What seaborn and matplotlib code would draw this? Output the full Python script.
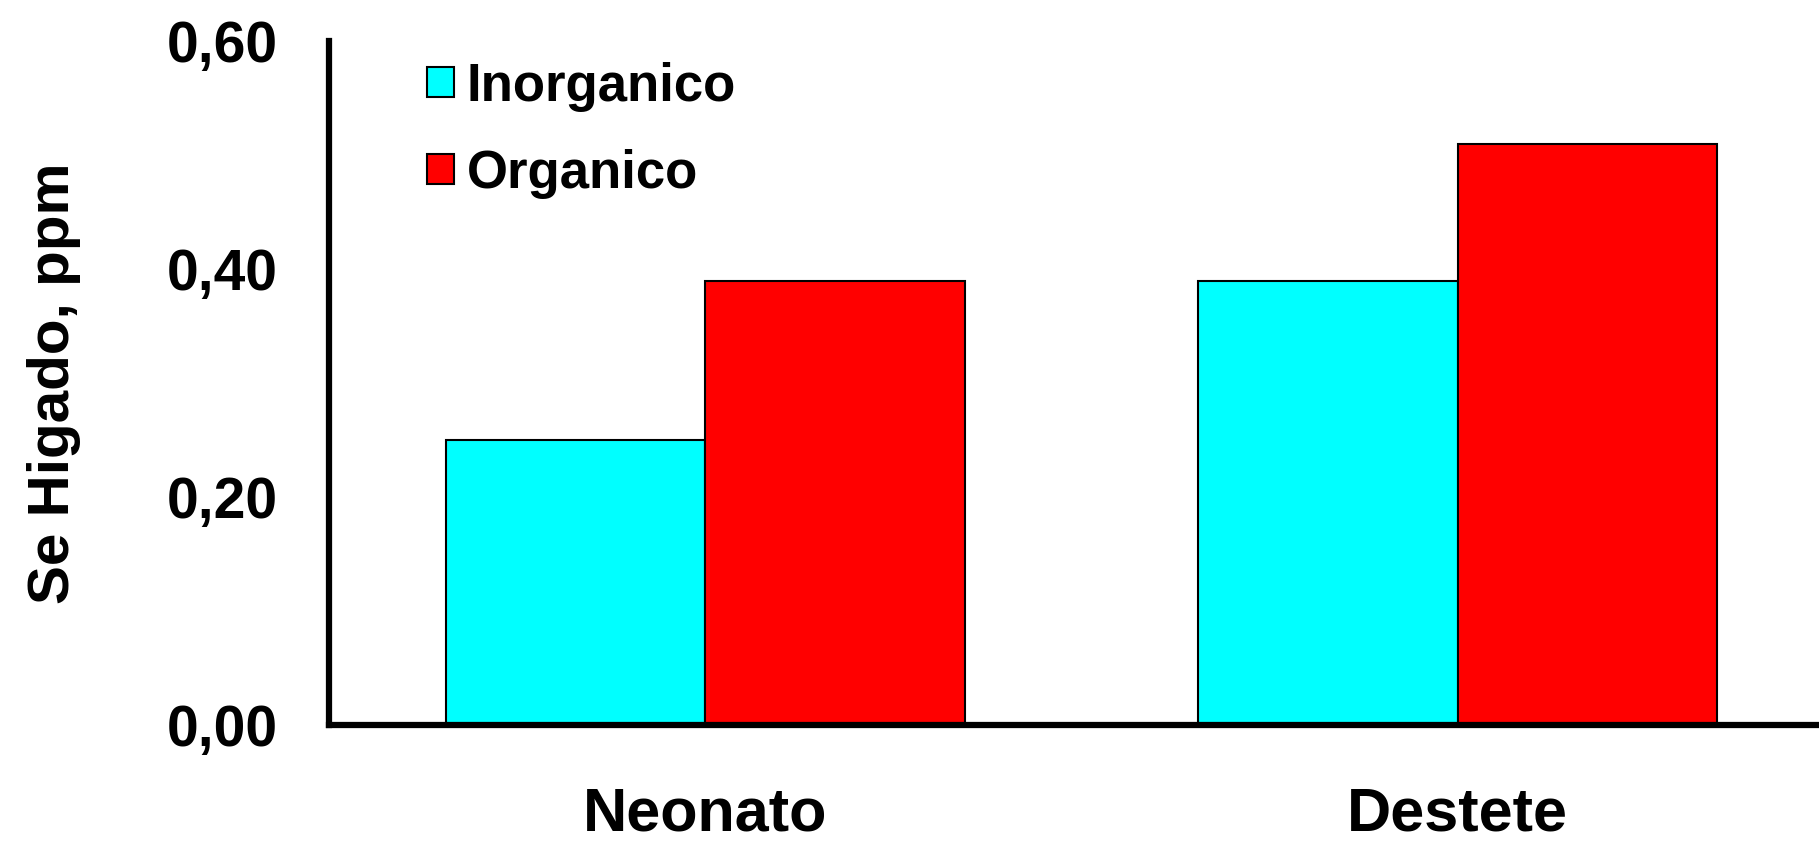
import pandas as pd
import matplotlib
matplotlib.use("Agg")
import matplotlib.pyplot as plt
import seaborn as sns
from matplotlib.patches import Patch

# Datos del grafico
etapas = ["Neonato", "Destete"]
fuentes = ["Inorganico", "Organico"]
inorganico = [0.25, 0.39]
organico = [0.39, 0.51]
colores = ["#00FFFF", "#FF0000"]
ticks_y = [0.0, 0.2, 0.4, 0.6]
etiquetas_y = ["0,00", "0,20", "0,40", "0,60"]

df = pd.DataFrame({
    "etapa": etapas * 2,
    "fuente": [fuentes[0]] * 2 + [fuentes[1]] * 2,
    "se": inorganico + organico,
})

sns.set_style("white")
plt.rcParams["font.family"] = ["Liberation Sans", "DejaVu Sans"]
plt.rcParams["font.weight"] = "bold"
plt.rcParams["text.color"] = "black"
plt.rcParams["axes.labelcolor"] = "black"
plt.rcParams["xtick.color"] = "black"
plt.rcParams["ytick.color"] = "black"

fig = plt.figure(figsize=(18.19, 8.44), dpi=100)
ax = fig.add_axes([0.181, 0.141, 0.819, 0.810])

sns.barplot(
    data=df,
    x="etapa",
    y="se",
    hue="fuente",
    order=etapas,
    hue_order=fuentes,
    palette=colores,
    width=0.69,
    edgecolor="black",
    linewidth=1.5,
    saturation=1,
    legend=False,
    ax=ax
)

ax.set_ylim(0, 0.6)
ax.set_xlim(-0.5, 1.48)
ax.set_yticks(ticks_y)
ax.set_yticklabels(etiquetas_y, fontsize=41, fontweight="bold", color="black")
ax.set_xticklabels(etapas, fontsize=44, fontweight="bold", color="black")
ax.tick_params(axis="y", length=0, pad=37)
ax.tick_params(axis="x", length=0, pad=44)
ax.set_xlabel("")
ax.set_ylabel("Se Higado, ppm", fontsize=42, fontweight="bold", labelpad=62, color="black")

sns.despine(ax=ax, top=True, right=True)
ax.spines["left"].set_linewidth(4.5)
ax.spines["bottom"].set_linewidth(4.5)
ax.spines["left"].set_color("black")
ax.spines["bottom"].set_color("black")

handles = [Patch(facecolor=c, edgecolor="black", linewidth=1.5) for c in colores]
ax.legend(
    handles, fuentes,
    loc="upper left",
    bbox_to_anchor=(0.034, 1.04),
    frameon=False,
    prop={"size": 38, "weight": "bold"},
    handlelength=0.5,
    handleheight=0.5,
    handletextpad=0.25,
    labelspacing=0.71,
)

fig.savefig("out.png", dpi=100)
